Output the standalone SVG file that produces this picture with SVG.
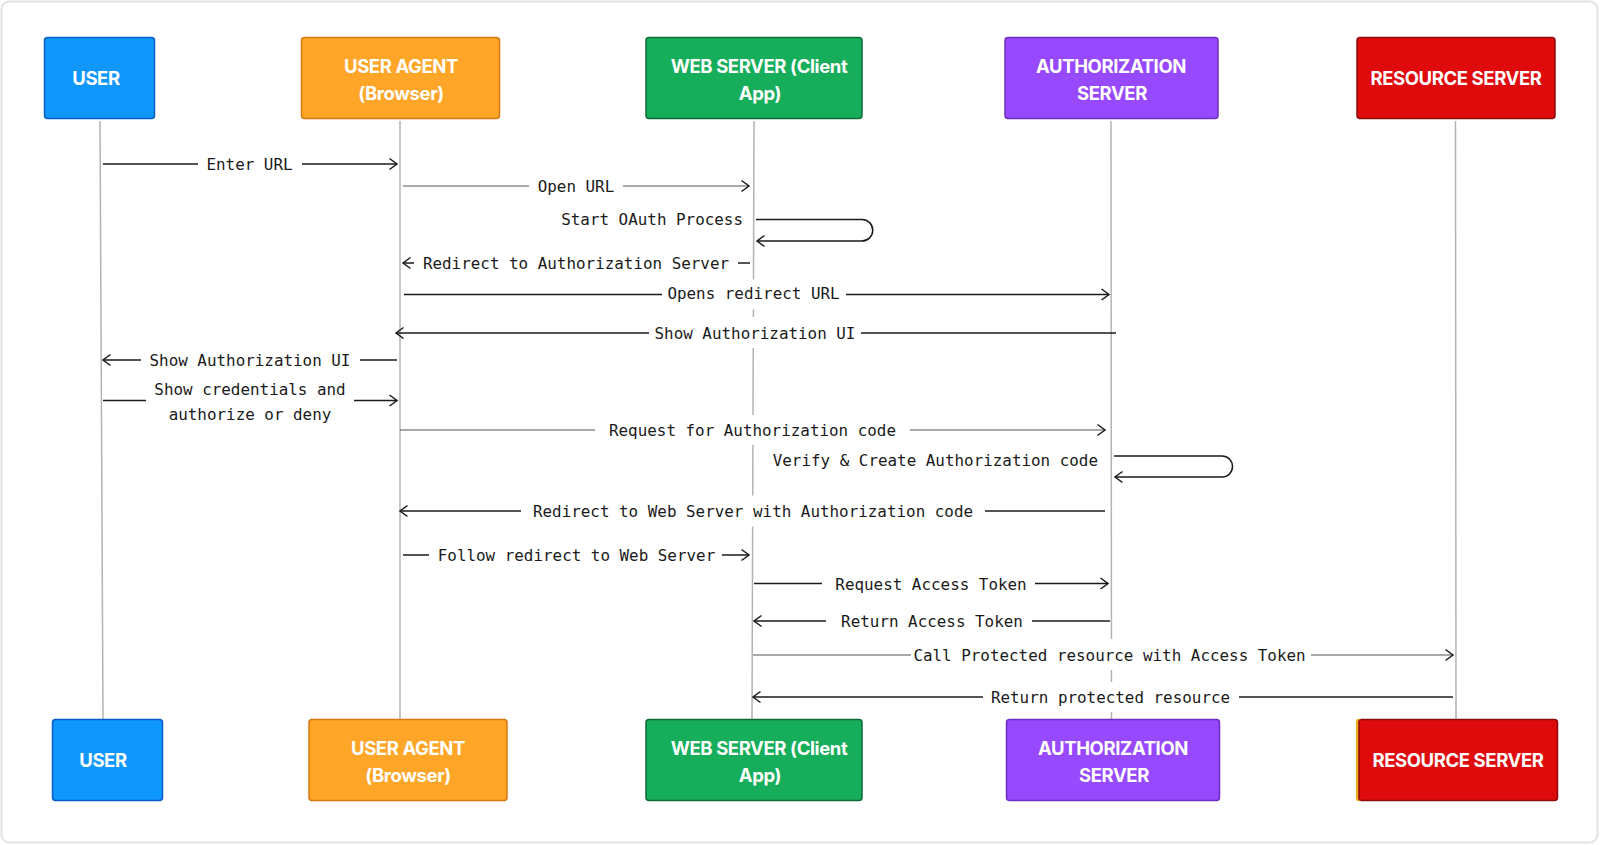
<svg xmlns="http://www.w3.org/2000/svg" width="1600" height="845" viewBox="0 0 1600 845">
<style>
.bt{font-family:Inter,"Liberation Sans",sans-serif;font-weight:700;font-size:18.5px;fill:#fff;text-anchor:middle;letter-spacing:-0.4px}
.life{stroke:#b3b3b3;stroke-width:1.5;fill:none}
.msg{stroke:#1a1a1a;stroke-width:1.5;fill:none}
.msg2{stroke:#555;stroke-width:1.2;fill:none}
.lbl{font-family:"DejaVu Sans Mono","Liberation Mono",monospace;font-size:15.9px;fill:#1a1a1a;text-anchor:middle}
.end{text-anchor:end}
.bg{fill:#fff}
.u{fill:#0f97fe;stroke:#0a5bc4;stroke-width:1.5}
.ua{fill:#ffa629;stroke:#d9780e;stroke-width:1.5}
.ws{fill:#16ad5b;stroke:#0d6b38;stroke-width:1.5}
.as{fill:#9749fe;stroke:#6d2fc4;stroke-width:1.5}
.rs{fill:#df0a0b;stroke:#8c0b0b;stroke-width:1.5}
</style>
<defs>
<marker id="ah" markerUnits="userSpaceOnUse" markerWidth="12" markerHeight="14" viewBox="-1 -1 12 14" refX="9" refY="6" orient="auto">
<path d="M1.5,0.5 L9,6 L1.5,11.5" fill="none" stroke="#1a1a1a" stroke-width="1.5"/>
</marker>
</defs>
<rect x="0" y="0" width="1600" height="845" fill="#fff"/>
<rect x="1.5" y="1.5" width="1596" height="841" rx="8" fill="none" stroke="#e2e2e2" stroke-width="2"/>

<g id="lifelines">
<line class="life" x1="100" y1="121" x2="103" y2="719"/>
<line class="life" x1="400" y1="121" x2="400" y2="719"/>
<line class="life" x1="754" y1="121" x2="752" y2="719"/>
<line class="life" x1="1111" y1="121" x2="1111.5" y2="719"/>
<line class="life" x1="1455.5" y1="121" x2="1456" y2="719"/>
</g>

<g id="user-top"><rect class="u" x="44.5" y="37.5" width="110" height="81" rx="3"/><text class="bt" x="96" y="85">USER</text></g>
<g id="useragent-top"><rect class="ua" x="301.5" y="37.5" width="198" height="81" rx="3"/><text class="bt" x="401" y="73">USER AGENT</text><text class="bt" x="401" y="100">(Browser)</text></g>
<g id="webserver-top"><rect class="ws" x="646" y="37.5" width="216" height="81" rx="3"/><text class="bt" x="759" y="73">WEB SERVER (Client</text><text class="bt" x="760" y="100">App)</text></g>
<g id="authserver-top"><rect class="as" x="1005" y="37.5" width="213" height="81" rx="3"/><text class="bt" x="1111" y="73">AUTHORIZATION</text><text class="bt" x="1112" y="100">SERVER</text></g>
<g id="resourceserver-top"><rect class="rs" x="1357" y="37.5" width="198" height="81" rx="3"/><text class="bt" x="1456" y="85">RESOURCE SERVER</text></g>

<g id="user-bottom"><rect class="u" x="52.5" y="719.5" width="110" height="81" rx="3"/><text class="bt" x="103" y="767">USER</text></g>
<g id="useragent-bottom"><rect class="ua" x="309" y="719.5" width="198" height="81" rx="3"/><text class="bt" x="408" y="755">USER AGENT</text><text class="bt" x="408" y="782">(Browser)</text></g>
<g id="webserver-bottom"><rect class="ws" x="646" y="719.5" width="216" height="81" rx="3"/><text class="bt" x="759" y="755">WEB SERVER (Client</text><text class="bt" x="760" y="782">App)</text></g>
<g id="authserver-bottom"><rect class="as" x="1006.5" y="719.5" width="213" height="81" rx="3"/><text class="bt" x="1113" y="755">AUTHORIZATION</text><text class="bt" x="1114" y="782">SERVER</text></g>
<g id="resourceserver-bottom"><rect x="1356" y="719" width="8" height="82" rx="2" fill="#f0a81e"/><rect class="rs" x="1359" y="719.5" width="198.5" height="81" rx="3"/><text class="bt" x="1458" y="767">RESOURCE SERVER</text></g>

<g id="connectors">
<g><line class="msg" x1="103" y1="164" x2="397" y2="164" marker-end="url(#ah)"/><rect class="bg" x="198" y="150" width="104" height="28"/><text class="lbl" x="249.5" y="170">Enter URL</text></g>
<g><line class="msg2" x1="403" y1="186" x2="749" y2="186" marker-end="url(#ah)"/><rect class="bg" x="529" y="172" width="94" height="28"/><text class="lbl" x="576" y="192">Open URL</text></g>
<g><path class="msg" d="M756,219.5 H862 A10.75,10.75 0 0 1 862,241 H757" marker-end="url(#ah)"/><text class="lbl end" x="743" y="225">Start OAuth Process</text></g>
<g><line class="msg" x1="750" y1="263" x2="403" y2="263" marker-end="url(#ah)"/><rect class="bg" x="414" y="249" width="324" height="28"/><text class="lbl" x="576" y="269">Redirect to Authorization Server</text></g>
<g><line class="msg" x1="404" y1="294.5" x2="1109" y2="294.5" marker-end="url(#ah)"/><rect class="bg" x="662" y="279.5" width="184" height="30"/><text class="lbl" x="753.5" y="299">Opens redirect URL</text></g>
<g><line class="msg" x1="1116" y1="333" x2="396" y2="333" marker-end="url(#ah)"/><rect class="bg" x="649" y="317" width="212" height="31"/><text class="lbl" x="755" y="338.5">Show Authorization UI</text></g>
<g><line class="msg" x1="397" y1="360" x2="103" y2="360" marker-end="url(#ah)"/><rect class="bg" x="141" y="346" width="219" height="28"/><text class="lbl" x="250" y="366">Show Authorization UI</text></g>
<g><line class="msg" x1="103" y1="400.5" x2="397" y2="400.5" marker-end="url(#ah)"/><rect class="bg" x="146" y="376" width="208" height="50"/><text class="lbl" x="250" y="395">Show credentials and</text><text class="lbl" x="250" y="420">authorize or deny</text></g>
<g><line class="msg2" x1="400" y1="430" x2="1105" y2="430" marker-end="url(#ah)"/><rect class="bg" x="595" y="415" width="315" height="30"/><text class="lbl" x="752.5" y="436">Request for Authorization code</text></g>
<g><path class="msg" d="M1114,456 H1222 A10.5,10.5 0 0 1 1222,477 H1115" marker-end="url(#ah)"/><text class="lbl end" x="1098" y="465.5">Verify &amp; Create Authorization code</text></g>
<g><line class="msg" x1="1105" y1="511" x2="400" y2="511" marker-end="url(#ah)"/><rect class="bg" x="521" y="495.5" width="464" height="31"/><text class="lbl" x="753" y="517">Redirect to Web Server with Authorization code</text></g>
<g><line class="msg" x1="403" y1="555" x2="749" y2="555" marker-end="url(#ah)"/><rect class="bg" x="429" y="541" width="293" height="28"/><text class="lbl" x="576.5" y="561">Follow redirect to Web Server</text></g>
<g><line class="msg" x1="754" y1="583.5" x2="1108" y2="583.5" marker-end="url(#ah)"/><rect class="bg" x="822" y="570" width="213" height="27"/><text class="lbl" x="931" y="589.5">Request Access Token</text></g>
<g><line class="msg" x1="1110" y1="621" x2="754" y2="621" marker-end="url(#ah)"/><rect class="bg" x="826" y="607" width="206" height="28"/><text class="lbl" x="932" y="627">Return Access Token</text></g>
<g><line class="msg2" x1="753" y1="655" x2="1453" y2="655" marker-end="url(#ah)"/><rect class="bg" x="911" y="639" width="400" height="31"/><text class="lbl" x="1109.5" y="661">Call Protected resource with Access Token</text></g>
<g><line class="msg" x1="1453" y1="697" x2="753" y2="697" marker-end="url(#ah)"/><rect class="bg" x="983" y="682" width="256" height="30"/><text class="lbl" x="1110.5" y="703">Return protected resource</text></g>
</g>
</svg>
